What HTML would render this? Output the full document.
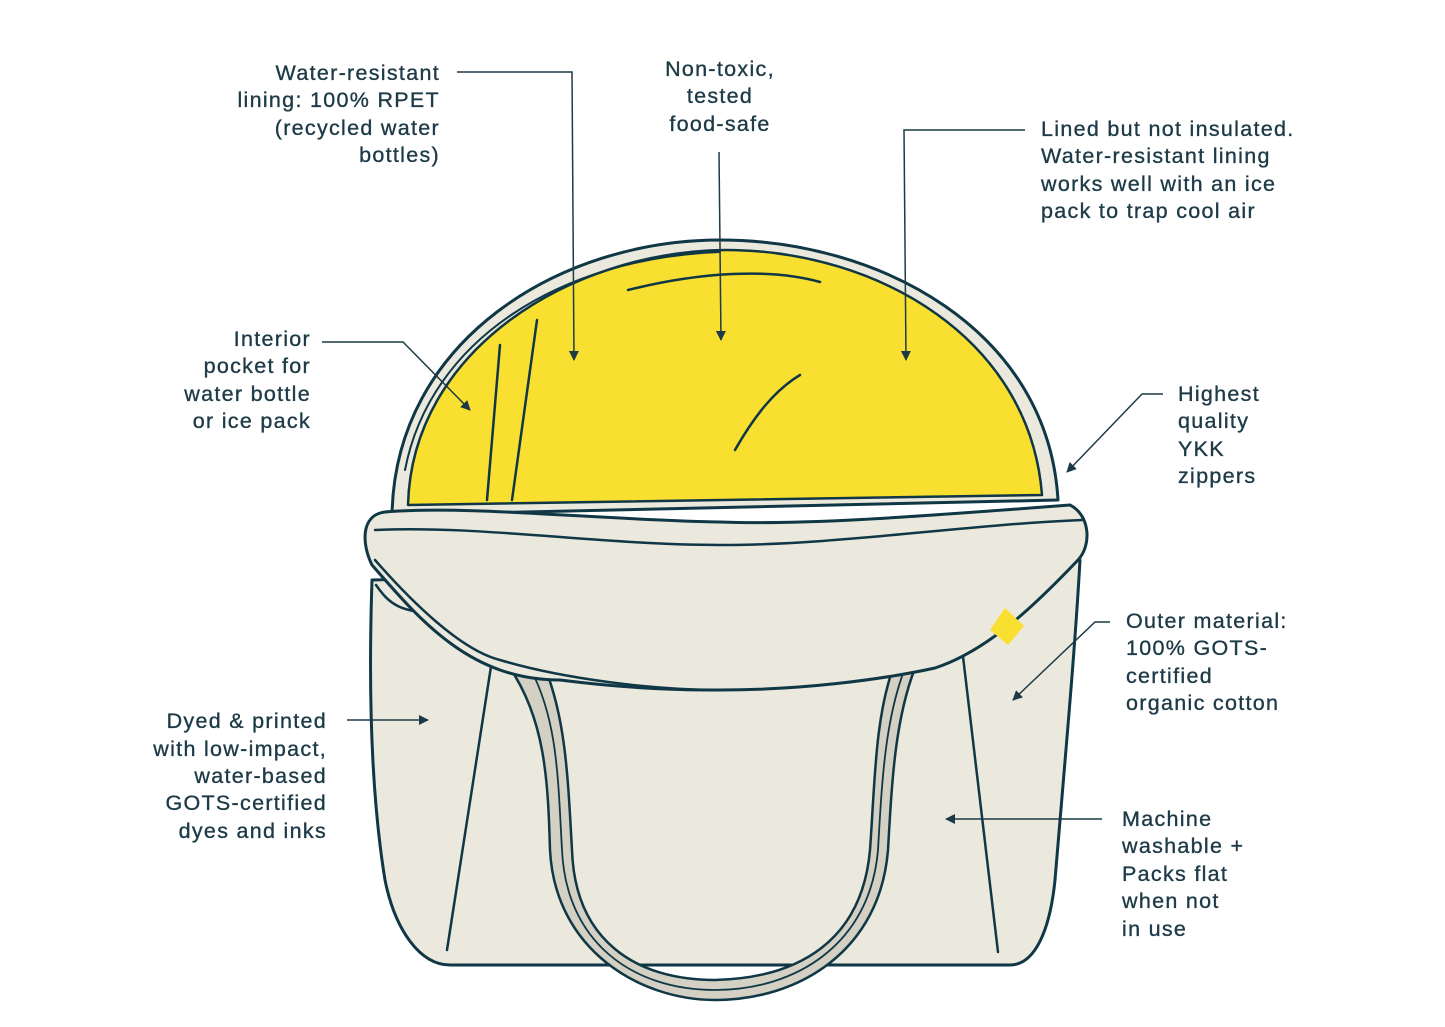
<!DOCTYPE html>
<html><head><meta charset="utf-8"><style>
html,body{margin:0;padding:0;background:#fff;}
svg{display:block;}
text{font-family:"Liberation Sans",sans-serif;font-size:21.5px;fill:#1d3a47;letter-spacing:1.3px;stroke:#1d3a47;stroke-width:0.35px;}
</style></head><body>
<svg width="1445" height="1027" viewBox="0 0 1445 1027" xmlns="http://www.w3.org/2000/svg">
<defs><marker id="a" viewBox="0 0 10 10" refX="9" refY="5" markerWidth="10" markerHeight="10" orient="auto" markerUnits="userSpaceOnUse"><path d="M0,0 L10,5 L0,10 Z" fill="#1d3a47"/></marker></defs>
<g stroke="#0f3745" stroke-width="3" stroke-linejoin="round" stroke-linecap="round">
<!-- dome -->
<path d="M392,515 C395,340 560,240 720,240 C880,240 1048,330 1058,500 Z" fill="#ebe8dd"/>
<path d="M408,505 C412,350 570,252 725,250 C880,250 1030,340 1042,495 Z" fill="#f9df2f" stroke-width="2.5"/>
<path d="M405,470 C430,340 560,258 720,252" fill="none" stroke-width="2"/>
<path d="M487,500 L500,345 M512,500 L537,320" fill="none" stroke-width="2.5"/>
<path d="M628,290 C700,272 770,268 820,282" fill="none" stroke-width="2.5"/>
<path d="M735,450 C755,415 775,390 800,375" fill="none" stroke-width="2.5"/>
<!-- body -->
<path d="M372,580 C368,700 372,800 385,880 C395,930 420,965 450,965 L1010,965 C1035,965 1050,930 1055,880 C1065,760 1075,650 1080,560 Z" fill="#ebe8dd"/>
<path d="M492,660 L447,950 M962,648 L998,952" fill="none" stroke-width="2.5"/>
<path d="M376,585 C390,605 400,612 440,614" fill="none" stroke-width="2.5"/>
<!-- strap -->
<path d="M510,668 C545,720 548,780 550,850 C555,950 640,1000 715,1000 C800,1000 880,950 888,850 C892,780 895,720 915,668 L893,668 C875,720 875,780 870,850 C862,940 800,978 715,980 C635,980 575,940 572,850 C568,780 566,720 545,668 Z" fill="#d4d0c4" stroke-width="2.5"/>
<path d="M530,668 C558,720 558,780 562,850 C566,940 630,990 715,990 C795,990 870,945 878,850 C882,780 885,720 905,668" fill="none" stroke-width="1.8"/>
<!-- collar -->
<path d="M385,512 C360,515 362,545 372,565 C420,620 470,680 560,680 C640,690 690,690 720,690 C800,690 880,680 935,668 C990,650 1040,600 1078,560 C1092,545 1090,515 1070,505 C900,518 800,525 720,522 C600,520 470,505 385,512 Z" fill="#ebe8dd"/>
<path d="M375,530 C480,525 600,545 720,545 C840,545 960,525 1082,520" fill="none" stroke-width="2.5"/>
<path d="M375,560 C410,600 460,650 500,660 C560,678 650,690 720,690" fill="none" stroke-width="2.5"/>
</g>
<path d="M1005,608 L1024,626 L1008,645 L990,630 Z" fill="#f9df2f"/>
<!-- connectors -->
<g stroke="#1d3a47" stroke-width="1.5" fill="none" marker-end="url(#a)">
<path d="M457,72 L572,72 L574,360"/>
<path d="M719,152 L721,340"/>
<path d="M1025,130 L904,130 L906,360"/>
<path d="M322,342 L403,342 L470,410"/>
<path d="M1163,394 L1142,394 L1067,472"/>
<path d="M1110,622 L1095,622 L1013,700"/>
<path d="M347,720 L428,720"/>
<path d="M1102,819 L946,819"/>
</g>
<!-- labels -->
<g text-anchor="end">
<text x="440" y="80">Water-resistant</text>
<text x="440" y="107">lining: 100% RPET</text>
<text x="440" y="135">(recycled water</text>
<text x="440" y="162">bottles)</text>
<text x="311" y="346">Interior</text>
<text x="311" y="373">pocket for</text>
<text x="311" y="401">water bottle</text>
<text x="311" y="428">or ice pack</text>
<text x="327" y="728">Dyed &amp; printed</text>
<text x="327" y="756">with low-impact,</text>
<text x="327" y="783">water-based</text>
<text x="327" y="810">GOTS-certified</text>
<text x="327" y="838">dyes and inks</text>
</g>
<g text-anchor="middle">
<text x="720" y="76">Non-toxic,</text>
<text x="720" y="103">tested</text>
<text x="720" y="131">food-safe</text>
</g>
<text x="1041" y="136">Lined but not insulated.</text>
<text x="1041" y="163">Water-resistant lining</text>
<text x="1041" y="191">works well with an ice</text>
<text x="1041" y="218">pack to trap cool air</text>
<text x="1178" y="401">Highest</text>
<text x="1178" y="428">quality</text>
<text x="1178" y="456">YKK</text>
<text x="1178" y="483">zippers</text>
<text x="1126" y="628">Outer material:</text>
<text x="1126" y="655">100% GOTS-</text>
<text x="1126" y="683">certified</text>
<text x="1126" y="710">organic cotton</text>
<text x="1122" y="826">Machine</text>
<text x="1122" y="853">washable +</text>
<text x="1122" y="881">Packs flat</text>
<text x="1122" y="908">when not</text>
<text x="1122" y="936">in use</text>
</svg>
</body></html>
